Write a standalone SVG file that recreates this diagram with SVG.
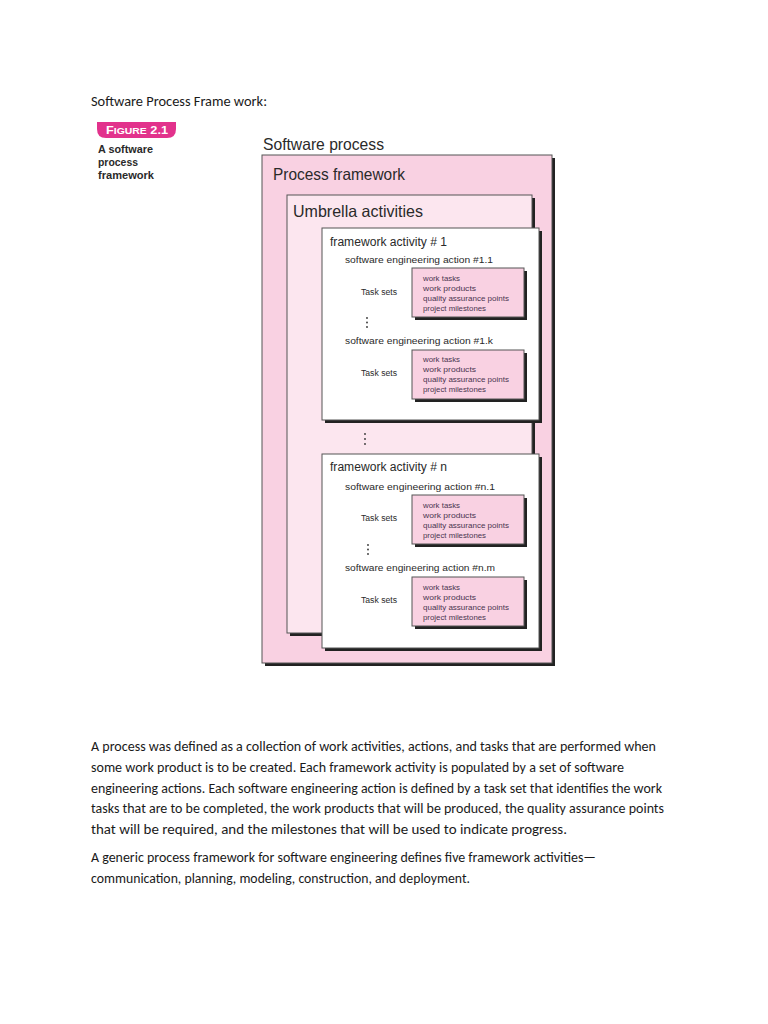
<svg xmlns="http://www.w3.org/2000/svg" width="768" height="1024" viewBox="0 0 768 1024">
<style>
.doc{font-family:Carlito,"Open Sans","Liberation Sans",sans-serif;font-size:13.3px;fill:#1a1a1a}
.fig{font-family:"Liberation Sans","DejaVu Sans",sans-serif;fill:#2a2a2a}
.shadow{fill:#222}
.box{stroke:#555;stroke-width:1}
.t1{font-size:16.5px}
.t2{font-size:12.5px}
.t3{font-size:9.5px}
.ts{font-size:8.5px}
.bt{font-size:8px;fill:#4a3550}
.dot{fill:#333}
</style>
<rect width="768" height="1024" fill="#fff"/>
<text class="doc" x="91" y="106" font-size="14.3" textLength="176" lengthAdjust="spacingAndGlyphs">Software Process Frame work:</text>

<g id="figure-label">
<path d="M97,122 H176 V129 Q176,138 167,138 H106 Q97,138 97,129 Z" fill="#e2328c"/>
<text x="137" y="134" text-anchor="middle" font-family="'Liberation Sans',sans-serif" font-size="11" font-weight="bold" fill="#fff" textLength="62" lengthAdjust="spacingAndGlyphs">F<tspan font-size="9">IGURE</tspan> 2.1</text>
<text class="fig" x="98" y="153" font-size="10" font-weight="bold" textLength="55" lengthAdjust="spacingAndGlyphs">A software</text>
<text class="fig" x="98" y="166" font-size="10" font-weight="bold" textLength="40" lengthAdjust="spacingAndGlyphs">process</text>
<text class="fig" x="98" y="179" font-size="10" font-weight="bold" textLength="56" lengthAdjust="spacingAndGlyphs">framework</text>
</g>

<g id="software-process">
<text class="fig t1" x="263" y="150" font-size="17" textLength="121" lengthAdjust="spacingAndGlyphs">Software process</text>
</g>

<g id="process-framework">
<rect class="shadow" x="265" y="158" width="290" height="508"/>
<rect class="box" x="262" y="155" width="290" height="508" fill="#f9d1e2"/>
<text class="fig t1" x="273" y="180" textLength="132" lengthAdjust="spacingAndGlyphs">Process framework</text>
</g>

<g id="umbrella-activities">
<rect class="shadow" x="290" y="198" width="245" height="438"/>
<rect class="box" x="287" y="195" width="245" height="438" fill="#fce6ef"/>
<text class="fig t1" x="293" y="217" textLength="130" lengthAdjust="spacingAndGlyphs">Umbrella activities</text>
</g>

<g id="framework-activity-1">
<rect class="shadow" x="325" y="231" width="217" height="192"/>
<rect class="box" x="322" y="228" width="217" height="192" fill="#fff"/>
<text class="fig t2" x="330" y="246" textLength="117" lengthAdjust="spacingAndGlyphs">framework activity # 1</text>
<text class="fig t3" x="345" y="263" textLength="148" lengthAdjust="spacingAndGlyphs">software engineering action #1.1</text>
<text class="fig ts" x="361" y="295" textLength="36" lengthAdjust="spacingAndGlyphs">Task sets</text>
<rect class="shadow" x="415" y="271" width="112" height="49"/>
<rect class="box" x="412" y="268" width="112" height="49" fill="#f9d1e2"/>
<text class="fig bt" x="423" y="281" textLength="37" lengthAdjust="spacingAndGlyphs">work tasks</text>
<text class="fig bt" x="423" y="291" textLength="53" lengthAdjust="spacingAndGlyphs">work products</text>
<text class="fig bt" x="423" y="301" textLength="86" lengthAdjust="spacingAndGlyphs">quality assurance points</text>
<text class="fig bt" x="423" y="311" textLength="63" lengthAdjust="spacingAndGlyphs">project milestones</text>
<circle class="dot" cx="367" cy="318" r="0.9"/>
<circle class="dot" cx="367" cy="322.5" r="0.9"/>
<circle class="dot" cx="367" cy="327" r="0.9"/>
<text class="fig t3" x="345" y="344" textLength="148" lengthAdjust="spacingAndGlyphs">software engineering action #1.k</text>
<text class="fig ts" x="361" y="376" textLength="36" lengthAdjust="spacingAndGlyphs">Task sets</text>
<rect class="shadow" x="415" y="353" width="112" height="49"/>
<rect class="box" x="412" y="350" width="112" height="49" fill="#f9d1e2"/>
<text class="fig bt" x="423" y="362" textLength="37" lengthAdjust="spacingAndGlyphs">work tasks</text>
<text class="fig bt" x="423" y="372" textLength="53" lengthAdjust="spacingAndGlyphs">work products</text>
<text class="fig bt" x="423" y="382" textLength="86" lengthAdjust="spacingAndGlyphs">quality assurance points</text>
<text class="fig bt" x="423" y="392" textLength="63" lengthAdjust="spacingAndGlyphs">project milestones</text>
</g>

<g id="activity-ellipsis">
<circle class="dot" cx="365" cy="434" r="0.9"/>
<circle class="dot" cx="365" cy="439" r="0.9"/>
<circle class="dot" cx="365" cy="444" r="0.9"/>
</g>

<g id="framework-activity-n">
<rect class="shadow" x="325" y="457" width="217" height="194"/>
<rect class="box" x="322" y="454" width="217" height="194" fill="#fff"/>
<text class="fig t2" x="330" y="471" textLength="117" lengthAdjust="spacingAndGlyphs">framework activity # n</text>
<text class="fig t3" x="345" y="490" textLength="150" lengthAdjust="spacingAndGlyphs">software engineering action #n.1</text>
<text class="fig ts" x="361" y="521" textLength="36" lengthAdjust="spacingAndGlyphs">Task sets</text>
<rect class="shadow" x="415" y="498" width="112" height="49"/>
<rect class="box" x="412" y="495" width="112" height="49" fill="#f9d1e2"/>
<text class="fig bt" x="423" y="508" textLength="37" lengthAdjust="spacingAndGlyphs">work tasks</text>
<text class="fig bt" x="423" y="518" textLength="53" lengthAdjust="spacingAndGlyphs">work products</text>
<text class="fig bt" x="423" y="528" textLength="86" lengthAdjust="spacingAndGlyphs">quality assurance points</text>
<text class="fig bt" x="423" y="538" textLength="63" lengthAdjust="spacingAndGlyphs">project milestones</text>
<circle class="dot" cx="368" cy="545" r="0.9"/>
<circle class="dot" cx="368" cy="549.5" r="0.9"/>
<circle class="dot" cx="368" cy="554" r="0.9"/>
<text class="fig t3" x="345" y="571" textLength="150" lengthAdjust="spacingAndGlyphs">software engineering action #n.m</text>
<text class="fig ts" x="361" y="603" textLength="36" lengthAdjust="spacingAndGlyphs">Task sets</text>
<rect class="shadow" x="415" y="580" width="112" height="49"/>
<rect class="box" x="412" y="577" width="112" height="49" fill="#f9d1e2"/>
<text class="fig bt" x="423" y="590" textLength="37" lengthAdjust="spacingAndGlyphs">work tasks</text>
<text class="fig bt" x="423" y="600" textLength="53" lengthAdjust="spacingAndGlyphs">work products</text>
<text class="fig bt" x="423" y="610" textLength="86" lengthAdjust="spacingAndGlyphs">quality assurance points</text>
<text class="fig bt" x="423" y="620" textLength="63" lengthAdjust="spacingAndGlyphs">project milestones</text>
</g>

<g id="connectors"></g>

<g id="body-text">
<text class="doc" x="91" y="751" textLength="565" lengthAdjust="spacingAndGlyphs">A process was defined as a collection of work activities, actions, and tasks that are performed when</text>
<text class="doc" x="91" y="772" textLength="533" lengthAdjust="spacingAndGlyphs">some work product is to be created. Each framework activity is populated by a set of software</text>
<text class="doc" x="91" y="793" textLength="571" lengthAdjust="spacingAndGlyphs">engineering actions. Each software engineering action is defined by a task set that identifies the work</text>
<text class="doc" x="91" y="813" textLength="573" lengthAdjust="spacingAndGlyphs">tasks that are to be completed, the work products that will be produced, the quality assurance points</text>
<text class="doc" x="91" y="834" textLength="476" lengthAdjust="spacingAndGlyphs">that will be required, and the milestones that will be used to indicate progress.</text>
<text class="doc" x="91" y="862" textLength="505" lengthAdjust="spacingAndGlyphs">A generic process framework for software engineering defines five framework activities—</text>
<text class="doc" x="91" y="883" textLength="379" lengthAdjust="spacingAndGlyphs">communication, planning, modeling, construction, and deployment.</text>
</g>
</svg>
